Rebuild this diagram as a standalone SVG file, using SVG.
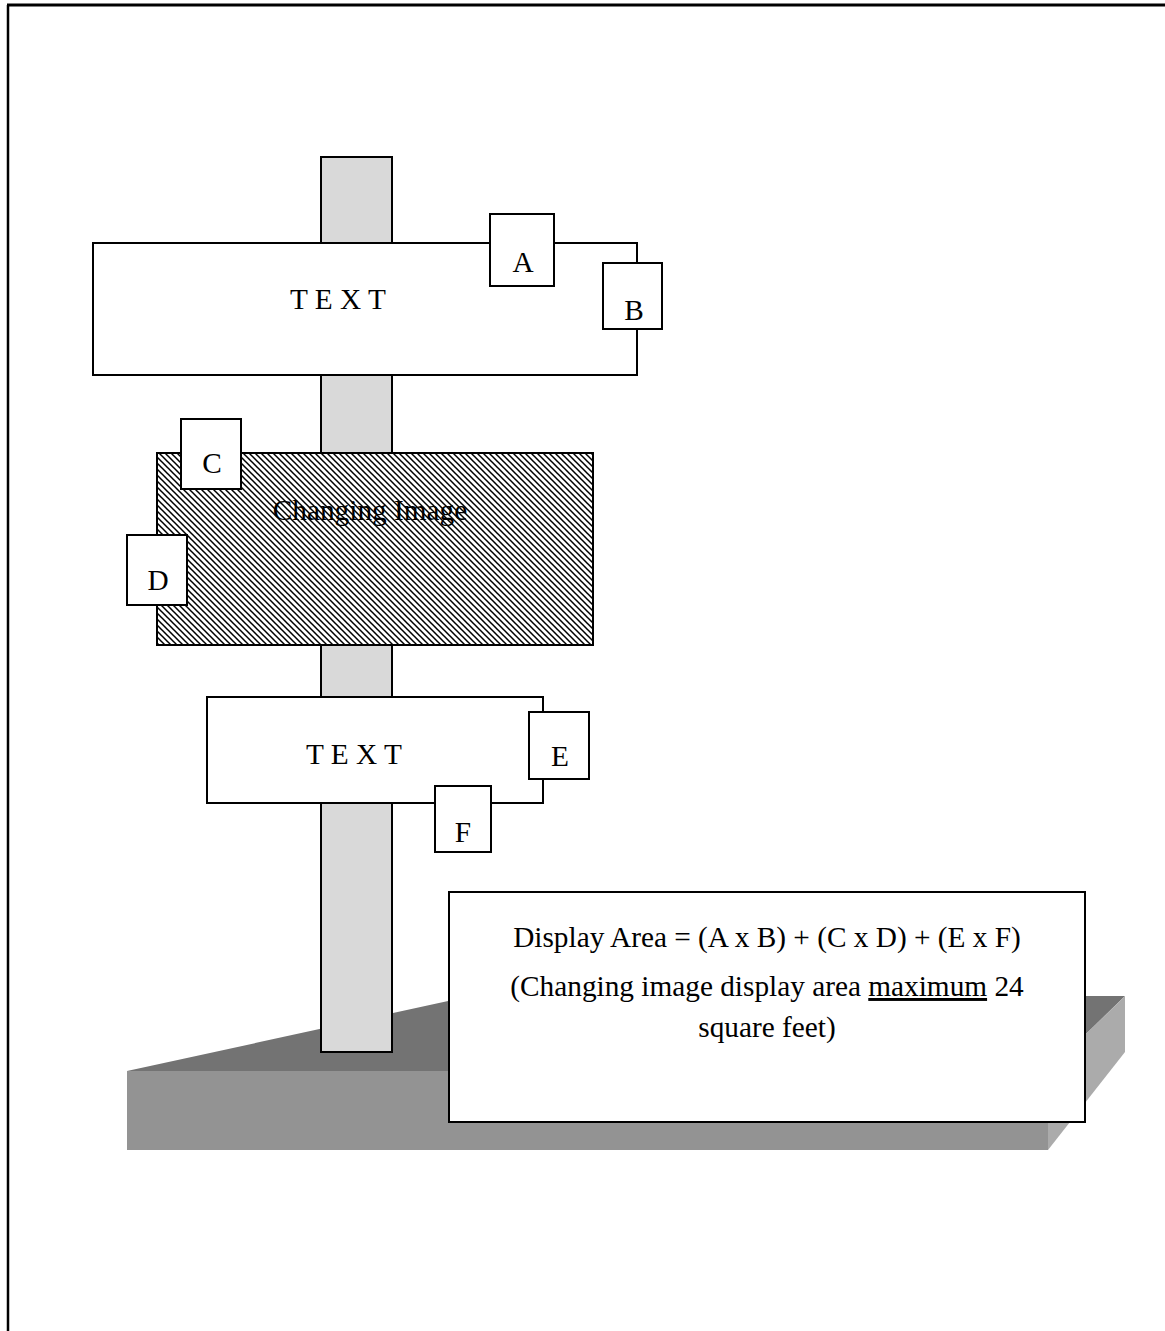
<svg xmlns="http://www.w3.org/2000/svg" width="1165" height="1331" viewBox="0 0 1165 1331">
<style>
.t{font-family:"Liberation Serif","Times New Roman",serif;font-size:29.3px;fill:#000}
.m{text-anchor:middle}
.box{fill:#fff;stroke:#000;stroke-width:2}
.pole{fill:#d9d9d9;stroke:#000;stroke-width:2}
</style>
<defs>
<pattern id="hatch" patternUnits="userSpaceOnUse" width="6" height="6">
<rect width="6" height="6" fill="#fff"/>
<path d="M-1,-1 L7,7 M-1,5 L1,7 M5,-1 L7,1" stroke="#000" stroke-width="1.5"/>
</pattern>
</defs>
<rect width="1165" height="1331" fill="#fff"/>
<g id="frame">
<line x1="7" y1="5" x2="1165" y2="5" stroke="#000" stroke-width="3"/>
<line x1="8" y1="5" x2="8" y2="1331" stroke="#000" stroke-width="2.5"/>
</g>
<g id="base">
<polygon points="127,1071 471,996 1125,996 1048,1071" fill="#737373"/>
<rect x="127" y="1071" width="921" height="79" fill="#939393"/>
<polygon points="1048,1071 1125,996 1125,1052 1048,1150" fill="#ababab"/>
</g>
<g id="pole"><rect class="pole" x="321" y="157" width="71" height="895"/></g>
<g id="sign-top">
<rect class="box" x="93" y="243" width="544" height="132"/>
<text class="t m" x="338" y="309">T E X T</text>
</g>
<g id="box-A"><rect class="box" x="490" y="214" width="64" height="72"/><text class="t m" x="523" y="272">A</text></g>
<g id="box-B"><rect class="box" x="603" y="263" width="59" height="66"/><text class="t m" x="634" y="320">B</text></g>
<g id="sign-image">
<rect x="157" y="453" width="436" height="192" fill="url(#hatch)" stroke="#000" stroke-width="2"/>
<text class="t m" x="370" y="520">Changing Image</text>
</g>
<g id="box-C"><rect class="box" x="181" y="419" width="60" height="70"/><text class="t m" x="212" y="473">C</text></g>
<g id="box-D"><rect class="box" x="127" y="535" width="60" height="70"/><text class="t m" x="158" y="590">D</text></g>
<g id="sign-bottom">
<rect class="box" x="207" y="697" width="336" height="106"/>
<text class="t m" x="354" y="764">T E X T</text>
</g>
<g id="box-E"><rect class="box" x="529" y="712" width="60" height="67"/><text class="t m" x="560" y="766">E</text></g>
<g id="box-F"><rect class="box" x="435" y="786" width="56" height="66"/><text class="t m" x="463" y="842">F</text></g>
<g id="formula">
<rect class="box" x="449" y="892" width="636" height="230"/>
<text class="t m" x="767" y="947">Display Area = (A x B) + (C x D) + (E x F)</text>
<text class="t m" x="767" y="996">(Changing image display area <tspan text-decoration="underline">maximum</tspan> 24</text>
<text class="t m" x="767" y="1037">square feet)</text>
</g>
<g id="connectors"/>
</svg>
